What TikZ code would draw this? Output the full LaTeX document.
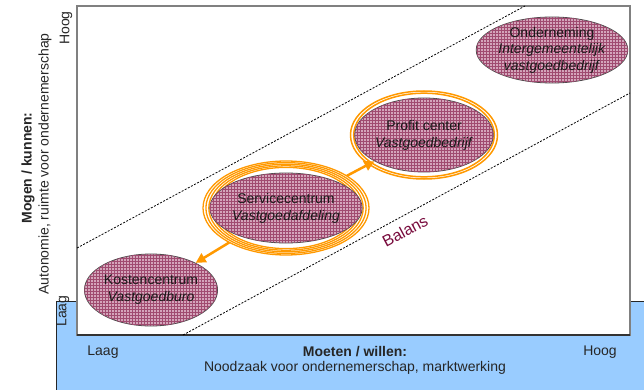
\documentclass[tikz,border=0pt]{standalone}
\usepackage{fontspec}
\setmainfont{Liberation Sans}
\usetikzlibrary{shapes.geometric,arrows.meta,patterns}
\definecolor{skyb}{RGB}{153,204,255}
\definecolor{orng}{RGB}{255,153,0}
\definecolor{mfill}{RGB}{212,165,187}
\definecolor{mgrid}{RGB}{160,75,112}
\definecolor{balc}{RGB}{120,10,60}
\begin{document}
\begin{tikzpicture}[x=1pt,y=-1pt,
  font=\fontsize{14}{17}\selectfont,
  ell/.style={ellipse, draw=black!70, line width=0.8pt, fill=mfill,
    postaction={pattern=grid, pattern color=mgrid},
    inner sep=0pt, align=center, text=black!90},
  ringnode/.style={ellipse, inner sep=0pt},
  ringline/.style={draw=orng, line width=1.3pt},
  arr/.style={draw=orng, line width=2.5pt, -{Triangle[length=10pt,width=10pt]}},
  balline/.style={line width=0.8pt, dash pattern=on 2pt off 1.5pt},
  lbl/.style={inner sep=0pt, text=black!85}]
\useasboundingbox (0,0) rectangle (644,390);
% blue band
\fill[skyb] (56,301) rectangle (644,390);
\draw[black!85, line width=0.9pt] (56,390) -- (56,301) -- (644,301);
% white plot area
\filldraw[fill=white, draw=gray, line width=1.3pt] (77,6) rectangle (630,335);
\draw[black!80, line width=1.3pt] (77,335) -- (630,335);
% balance lines
\coordinate (u1) at (77,248);
\coordinate (u2) at (525,6);
\coordinate (l1) at (183,335);
\coordinate (l2) at (630,93);
\draw[balline] (u1) -- (u2);
\draw[balline] (l1) -- (l2);
% rings
\node[ringnode, minimum width=166pt, minimum height=94pt] (svcring) at (286,208) {};
\foreach \i in {0,1,2,3,4}
  \draw[ringline] (svcring.center) ellipse [x radius={83-2.9*\i}, y radius={47-1.6*\i}];
\node[ringnode, minimum width=147pt, minimum height=88pt] (profring) at (424,135) {};
\foreach \i in {0,1}
  \draw[ringline, line width=1.5pt] (profring.center) ellipse [x radius={73.5-3.2*\i}, y radius={44-2.2*\i}];
% ellipses
\node[ell, minimum width=124pt, minimum height=72pt] (kost) at (151,290)
  {Kostencentrum\\\textit{Vastgoedburo}};
\node[ell, minimum width=122pt, minimum height=70pt] (svc) at (286,208)
  {Servicecentrum\\\textit{Vastgoedafdeling}};
\node[ell, minimum width=124pt, minimum height=74pt] (prof) at (424,135)
  {Profit center\\\textit{Vastgoedbedrijf}};
\node[ell, minimum width=122pt, minimum height=66pt, font=\fontsize{14}{16.5}\selectfont] (ond) at (552,50)
  {Onderneming\\\textit{Intergemeentelijk}\\\textit{vastgoedbedrijf}};
% arrows
\draw[arr] (svcring) -- (kost);
\draw[arr] (svcring) -- (prof);
% balans
\node[lbl, text=balc, rotate=28, font=\fontsize{16}{18}\selectfont] (bal) at (405,231) {Balans};
% axis labels
\node[lbl, rotate=90] (yhoog) at (66,28) {Hoog};
\node[lbl, rotate=90] (ylaag) at (63,311) {Laag};
\node[lbl, rotate=90, font=\fontsize{14}{17}\selectfont\bfseries] (ytitle) at (28,168) {Mogen / kunnen:};
\node[lbl, rotate=90] (ysub) at (45,164) {Autonomie, ruimte voor ondernemerschap};
\node[lbl] (xlaag) at (103,352) {Laag};
\node[lbl, font=\fontsize{14}{17}\selectfont\bfseries] (xtitle) at (355,352) {Moeten / willen:};
\node[lbl] (xsub) at (355,368) {Noodzaak voor ondernemerschap, marktwerking};
\node[lbl] (xhoog) at (600,352) {Hoog};
\end{tikzpicture}
\end{document}
